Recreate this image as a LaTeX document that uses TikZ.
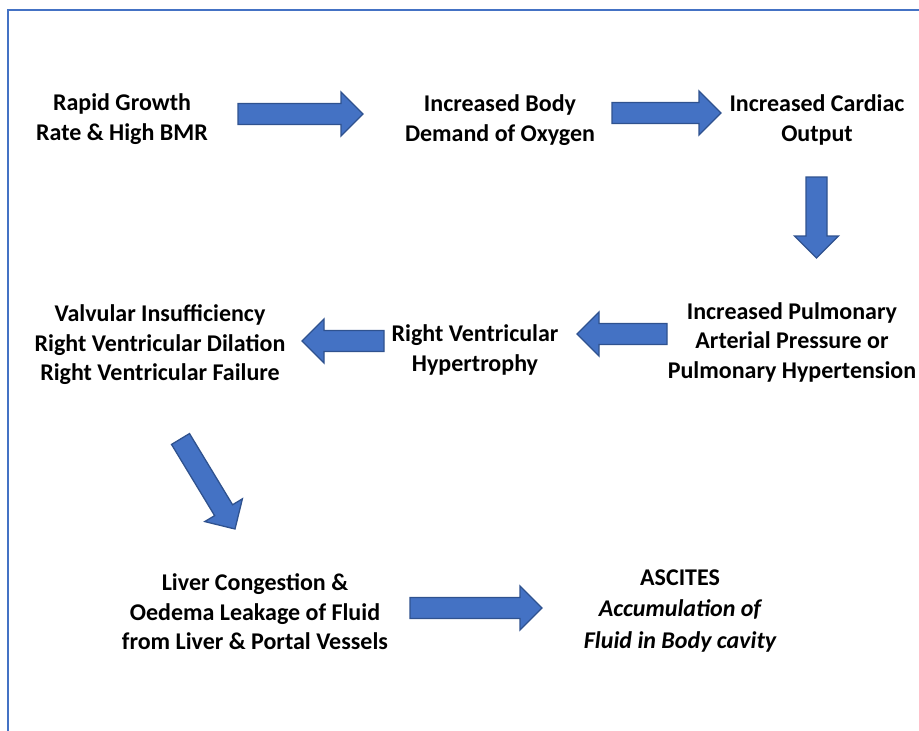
\documentclass[tikz,border=0pt]{standalone}
\usepackage{fontspec}
\setmainfont{Carlito}
\usepackage{tikz}
\usetikzlibrary{calc}
\definecolor{arrowblue}{RGB}{68,114,196}
\definecolor{edgeblue}{RGB}{47,82,143}

\begin{document}
\begin{tikzpicture}[x=1pt, y=-1pt, font=\fontsize{24}{29.5}\selectfont\bfseries,
		stage/.style={align=center, inner sep=0pt},
		fatarrow/.style={fill=arrowblue, draw=edgeblue, line width=1.3pt, line join=miter,
			to path={($(\tikztostart)!10.5pt!90:(\tikztotarget)$)
				-- ($(\tikztotarget)!22pt!(\tikztostart)!10.5pt!90:(\tikztotarget)$)
				-- ($(\tikztotarget)!22pt!(\tikztostart)!22pt!90:(\tikztotarget)$)
				-- (\tikztotarget)
				-- ($(\tikztotarget)!22pt!(\tikztostart)!22pt!-90:(\tikztotarget)$)
				-- ($(\tikztotarget)!22pt!(\tikztostart)!10.5pt!-90:(\tikztotarget)$)
				-- ($(\tikztostart)!10.5pt!-90:(\tikztotarget)$) -- cycle}}]
				\useasboundingbox (0,0) rectangle (919,731);
				\draw[arrowblue, line width=1.5pt] (8,731) -- (8,10) -- (930,10);
				
				\node[stage] (growth) at (122,119) {Rapid Growth\\Rate \& High BMR};
				\node[stage] (demand) at (500,120) {Increased Body\\Demand of Oxygen};
				\node[stage] (output) at (817,120) {Increased Cardiac\\Output};
				\node[stage] (pressure) at (792,342) {Increased Pulmonary\\Arterial Pressure or\\Pulmonary Hypertension};
				\node[stage] (hypertrophy) at (475,350) {Right Ventricular\\Hypertrophy};
				\node[stage] (failure) at (160,345) {Valvular Insufficiency\\Right Ventricular Dilation\\Right Ventricular Failure};
				\node[stage] (liver) at (255,612) {Liver Congestion \&\\Oedema Leakage of Fluid\\from Liver \& Portal Vessels};
				\node[stage, font=\fontsize{24}{31.5}\selectfont\bfseries] (ascites) at (680,611) {ASCITES\\\itshape Accumulation of\\\itshape Fluid in Body cavity};
				
				\coordinate (a1) at (238,114); \coordinate (b1) at (363,114);
				\coordinate (a2) at (612,113); \coordinate (b2) at (721,113);
				\coordinate (a3) at (816.5,177); \coordinate (b3) at (816.5,258);
				\coordinate (a4) at (667,334); \coordinate (b4) at (577,334);
				\coordinate (a5) at (384,341); \coordinate (b5) at (302,341);
				\coordinate (a6) at (180.5,439); \coordinate (b6) at (235,529);
				\coordinate (a7) at (410,608); \coordinate (b7) at (542,608);
				
				\draw[fatarrow] (a1) to (b1);
				\draw[fatarrow] (a2) to (b2);
				\draw[fatarrow] (a3) to (b3);
				\draw[fatarrow] (a4) to (b4);
				\draw[fatarrow] (a5) to (b5);
				\draw[fatarrow] (a6) to (b6);
				\draw[fatarrow] (a7) to (b7);
			\end{tikzpicture}
\end{document}
